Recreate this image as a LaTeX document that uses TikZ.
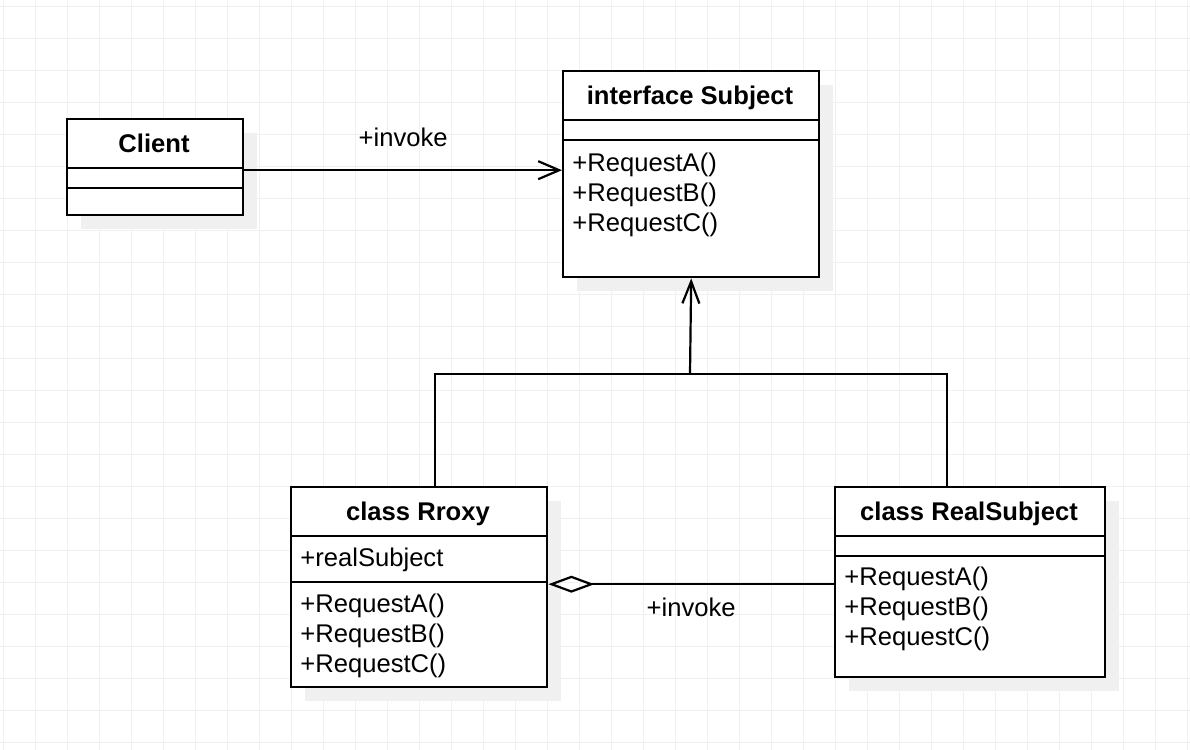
\documentclass[tikz,border=0pt]{standalone}
\usepackage{fontspec}
\setmainfont{Liberation Sans}
\usetikzlibrary{arrows.meta,shadows}

\tikzset{
    gridline/.style={black!6,line width=0.5pt},
    classbox/.style={draw,line width=1.2pt,fill=white,rectangle,anchor=north west,inner sep=0pt,
        drop shadow={shadow xshift=7pt,shadow yshift=-7pt,fill=black!6,opacity=1}},
    sepline/.style={line width=1.2pt},
    classname/.style={anchor=base,inner sep=0pt,font=\fontsize{12.8}{15}\selectfont\bfseries},
    member/.style={anchor=base west,inner sep=0pt,font=\fontsize{12.8}{15}\selectfont},
    linklabel/.style={anchor=base,inner sep=0pt,font=\fontsize{12.8}{15}\selectfont},
    connector/.style={line width=1.1pt},
}

\begin{document}
\begin{tikzpicture}[x=0.5pt,y=-0.5pt]
    \useasboundingbox (0,0) rectangle (1190,750);
    %% Grid
    \foreach \gx in {3,35,...,1190}
        \draw[gridline] (\gx,0) -- (\gx,750);
    \foreach \gy in {6,38,...,750}
        \draw[gridline] (0,\gy) -- (1190,\gy);
    %% Classes
    \node[classbox,minimum width=88pt,minimum height=48pt]  (client)  at (66,118) {};
    \node[classbox,minimum width=128pt,minimum height=103pt] (subject) at (562,70) {};
    \node[classbox,minimum width=128pt,minimum height=100pt] (proxy)   at (290,486) {};
    \node[classbox,minimum width=135pt,minimum height=95pt]  (real)    at (834,486) {};
    \foreach \b/\d in {client/25pt,client/35pt,subject/25pt,subject/35pt,
                       proxy/25pt,proxy/48pt,real/25pt,real/35pt}
        \draw[sepline] ([yshift=-\d]\b.north west) -- ([yshift=-\d]\b.north east);
    %% Names
    \node[classname] (clientname)  at (154,152) {Client};
    \node[classname] (subjectname) at (690,104) {interface Subject};
    \node[classname] (proxyname)   at (418,520) {class Rroxy};
    \node[classname] (realname)    at (969,520) {class RealSubject};
    %% Members
    \node[member] (proxyfield) at (300,566) {+realSubject};
    \foreach \r [count=\i from 0] in {A,B,C} {
        \node[member] (subj\r)  at (572,{171+30*\i}) {+Request\r()};
        \node[member] (proxy\r) at (300,{612+30*\i}) {+Request\r()};
        \node[member] (real\r)  at (844,{585+30*\i}) {+Request\r()};
    }
    %% Client uses Subject
    \coordinate (cliout) at ([yshift=-1.5pt]client.east);
    \draw[connector,-{Straight Barb[length=10.5pt,width=9pt]}] (cliout) -- (cliout -| subject.west)
        node[linklabel,midway,yshift=12pt] {+invoke};
    %% Generalization
    \coordinate (joint) at (690,374);
    \draw[connector] ([xshift=8pt]proxy.north) |- (joint) -| ([xshift=-11.5pt]real.north);
    \draw[connector,-{Straight Barb[length=11pt,width=8.5pt]}] (joint) -- (subject.south);
    %% Aggregation
    \coordinate (aggin) at ([yshift=1.5pt]proxy.east);
    \draw[connector,-{Diamond[open,length=23pt,width=8.5pt]}] (aggin -| real.west) -- (aggin)
        node[linklabel,midway,yshift=-16pt] {+invoke};
\end{tikzpicture}
\end{document}
